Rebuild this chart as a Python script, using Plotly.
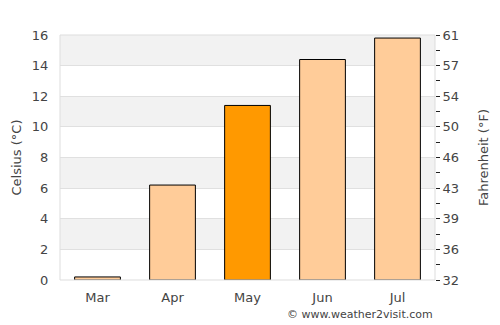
import plotly.graph_objects as go

months = ["Mar", "Apr", "May", "Jun", "Jul"]
celsius = [0.2, 6.2, 11.4, 14.4, 15.8]
bar_colors = ["#ffcc99", "#ffcc99", "#ff9900", "#ffcc99", "#ffcc99"]
c_ticks = [0, 2, 4, 6, 8, 10, 12, 14, 16]
f_tick_pos = list(range(0, 17))
f_tick_text = [str(round(c * 9 / 5 + 32)) if c % 2 == 0 else "" for c in f_tick_pos]

font_family = "DejaVu Sans"
text_color = "#444444"

fig = go.Figure()
fig.add_trace(go.Bar(
    x=months, y=celsius,
    marker=dict(color=bar_colors, line=dict(color="#000000", width=1)),
    width=0.61, hoverinfo="skip", showlegend=False,
))
fig.add_trace(go.Scatter(
    x=months, y=celsius, yaxis="y2", mode="markers",
    marker=dict(opacity=0), hoverinfo="skip", showlegend=False,
))

shapes = []
for lo in [2, 6, 10, 14]:
    shapes.append(dict(type="rect", xref="paper", yref="y", x0=0, x1=1, y0=lo, y1=lo + 2,
                       fillcolor="#f2f2f2", line=dict(width=0), layer="below"))
shapes.append(dict(type="rect", xref="paper", yref="paper", x0=0, x1=1, y0=0, y1=1,
                   line=dict(color="#dddddd", width=1), layer="above"))

fig.update_layout(
    width=500, height=325,
    margin=dict(l=60, r=65, t=35, b=45),
    paper_bgcolor="white", plot_bgcolor="white",
    font=dict(family=font_family, size=13, color=text_color),
    shapes=shapes,
    bargap=0.39,
    xaxis=dict(
        showgrid=False, zeroline=False, ticks="outside", ticklen=5, tickcolor="rgba(0,0,0,0)",
        tickfont=dict(size=13, color=text_color), fixedrange=True,
    ),
    yaxis=dict(
        range=[0, 16], tickvals=c_ticks, showgrid=True, gridcolor="#e0e0e0", gridwidth=1,
        zeroline=False, ticks="outside", ticklen=8, tickcolor="rgba(0,0,0,0)",
        title=dict(text="Celsius (°C)", font=dict(size=13, color=text_color), standoff=7),
        tickfont=dict(size=13, color=text_color),
    ),
    yaxis2=dict(
        range=[0, 16], overlaying="y", side="right", tickvals=f_tick_pos, ticktext=f_tick_text,
        showgrid=False, zeroline=False, ticks="outside", ticklen=4, tickcolor="#222222",
        title=dict(text="Fahrenheit (°F)", font=dict(size=13, color=text_color), standoff=20),
        tickfont=dict(size=13, color=text_color),
    ),
    annotations=[dict(
        text="© www.weather2visit.com", xref="paper", yref="paper", x=1, y=0,
        xanchor="right", yanchor="top", yshift=-26, showarrow=False,
        font=dict(size=11, color=text_color, family=font_family),
    )],
)

fig.write_html("out.html")
